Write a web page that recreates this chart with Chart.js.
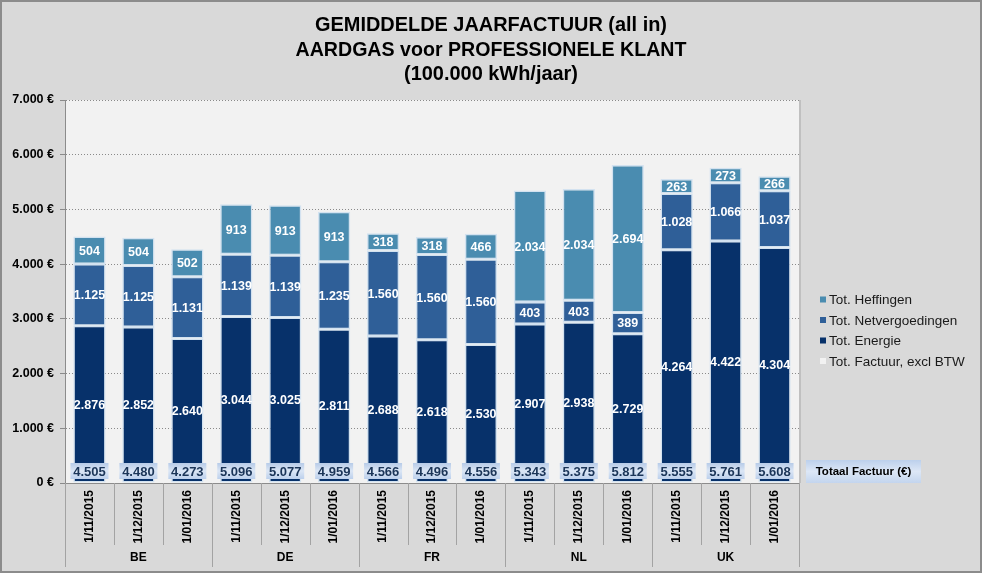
<!DOCTYPE html>
<html><head><meta charset="utf-8">
<script src="https://cdn.jsdelivr.net/npm/chart.js@4.4.1/dist/chart.umd.min.js"></script>
<style>html,body{margin:0;padding:0;background:#d9d9d9;overflow:hidden}#wrap{width:982px;height:573px;}</style>
</head><body><div id="wrap"><canvas id="c" width="982" height="573"></canvas></div>
<script>
const titleLines = ['GEMIDDELDE JAARFACTUUR (all in)', 'AARDGAS voor PROFESSIONELE KLANT', '(100.000 kWh/jaar)'];
const categories = ['1/11/2015','1/12/2015','1/01/2016','1/11/2015','1/12/2015','1/01/2016','1/11/2015','1/12/2015','1/01/2016','1/11/2015','1/12/2015','1/01/2016','1/11/2015','1/12/2015','1/01/2016'];
const countries = ['BE','DE','FR','NL','UK'];
const categoryCountry = ['BE','BE','BE','DE','DE','DE','FR','FR','FR','NL','NL','NL','UK','UK','UK'];
const energie = [2876,2852,2640,3044,3025,2811,2688,2618,2530,2907,2938,2729,4264,4422,4304];
const netvergoedingen = [1125,1125,1131,1139,1139,1235,1560,1560,1560,403,403,389,1028,1066,1037];
const heffingen = [504,504,502,913,913,913,318,318,466,2034,2034,2694,263,273,266];
const totaalFactuur = [4505,4480,4273,5096,5077,4959,4566,4496,4556,5343,5375,5812,5555,5761,5608];
const yTicks = [0,1000,2000,3000,4000,5000,6000,7000];
const seriesNames = ['Tot. Energie','Tot. Netvergoedingen','Tot. Heffingen','Tot. Factuur, excl BTW'];
const totalBoxLabel = 'Totaal Factuur (€)';

const COL_E = '#07316a', COL_N = '#2f5f98', COL_H = '#4a8cb0', COL_T = '#f2f2f2';
const FONT = "'Liberation Sans', Arial, sans-serif";
const fmt = v => String(v).replace(/\B(?=(\d{3})+(?!\d))/g, '.');

const deco = {
  id: 'deco',
  beforeDraw(chart) {
    const ctx = chart.ctx, a = chart.chartArea;
    ctx.save();
    ctx.fillStyle = '#d9d9d9';
    ctx.fillRect(0, 0, chart.width, chart.height);
    ctx.fillStyle = '#f2f2f2';
    ctx.fillRect(a.left, a.top, a.right - a.left, a.bottom - a.top);
    ctx.strokeStyle = '#c0c0c0'; ctx.lineWidth = 2;
    ctx.beginPath(); ctx.moveTo(a.right + 1, a.top); ctx.lineTo(a.right + 1, a.bottom); ctx.stroke();
    ctx.restore();
  },
  afterDatasetsDraw(chart) {
    const ctx = chart.ctx;
    ctx.save();
    ctx.textAlign = 'center'; ctx.textBaseline = 'middle';
    ctx.font = 'bold 12.5px ' + FONT;
    ctx.fillStyle = '#ffffff';
    chart.data.datasets.forEach((ds, di) => {
      const meta = chart.getDatasetMeta(di);
      meta.data.forEach((bar, i) => {
        ctx.fillText(fmt(ds.data[i]), bar.x, (bar.y + bar.base) / 2 + 1);
      });
    });
    // totals boxes
    const y0 = chart.scales.y.getPixelForValue(0);
    const meta0 = chart.getDatasetMeta(0);
    meta0.data.forEach((bar, i) => {
      const bx = bar.x - 19, by = y0 - 20, bw = 38, bh = 16;
      const g = ctx.createLinearGradient(0, by, 0, by + bh);
      g.addColorStop(0, '#b7cbe8'); g.addColorStop(0.5, '#dbe6f5'); g.addColorStop(1, '#bcd0ec');
      ctx.fillStyle = g;
      ctx.fillRect(bx, by, bw, bh);
      ctx.fillStyle = '#1b3558';
      ctx.font = 'bold 13px ' + FONT;
      ctx.fillText(fmt(totaalFactuur[i]), bar.x, by + bh / 2 + 1);
    });
    ctx.restore();
  },
  afterDraw(chart) {
    const ctx = chart.ctx, a = chart.chartArea, xs = chart.scales.x;
    ctx.save();
    // title
    ctx.fillStyle = '#000';
    ctx.textBaseline = 'middle'; ctx.textAlign = 'center';
    ctx.font = 'bold 20px ' + FONT;
    const targets = [352, 391, 174], ys = [25, 50, 74];
    titleLines.forEach((t, k) => {
      const w = ctx.measureText(t).width;
      ctx.save();
      ctx.translate(491, ys[k]);
      ctx.scale(targets[k] / w, 1);
      ctx.fillText(t, 0, 0);
      ctx.restore();
    });
    // x hierarchy separators
    const cw = (a.right - a.left) / categories.length;
    ctx.strokeStyle = '#a3a3a3'; ctx.lineWidth = 1;
    for (let b = 0; b <= categories.length; b++) {
      const x = Math.round(a.left + b * cw) + 0.5;
      const isGroup = b === 0 || b === categories.length || categoryCountry[b] !== categoryCountry[b - 1];
      ctx.beginPath(); ctx.moveTo(x, a.bottom); ctx.lineTo(x, isGroup ? 567 : 545); ctx.stroke();
    }
    ctx.font = 'bold 12px ' + FONT;
    ctx.fillStyle = '#000';
    countries.forEach(c => {
      const idx = categoryCountry.map((v, i) => v === c ? i : -1).filter(i => i >= 0);
      const x = (xs.getPixelForValue(idx[0]) + xs.getPixelForValue(idx[idx.length - 1])) / 2;
      ctx.fillText(c, x, 558);
    });
    // legend
    const leg = [[seriesNames[2], COL_H], [seriesNames[1], COL_N], [seriesNames[0], COL_E], [seriesNames[3], COL_T]];
    ctx.textAlign = 'left';
    ctx.font = '13.5px ' + FONT;
    leg.forEach((l, k) => {
      const y = 299.5 + k * 20.5;
      ctx.fillStyle = l[1];
      ctx.fillRect(820, y - 3, 6, 6);
      ctx.fillStyle = '#1a1a1a';
      ctx.fillText(l[0], 829, y + 1);
    });
    // Totaal Factuur box
    const g = ctx.createLinearGradient(0, 460, 0, 483);
    g.addColorStop(0, '#bcd0ec'); g.addColorStop(0.5, '#dde7f6'); g.addColorStop(1, '#c3d5ee');
    ctx.fillStyle = g;
    ctx.fillRect(806, 460, 115, 23);
    ctx.fillStyle = '#000';
    ctx.textAlign = 'center';
    ctx.font = 'bold 11.5px ' + FONT;
    ctx.fillText(totalBoxLabel, 863.5, 472);
    // outer frame
    ctx.strokeStyle = '#8c8c8c'; ctx.lineWidth = 2;
    ctx.strokeRect(1, 1, chart.width - 2, chart.height - 2);
    ctx.restore();
  }
};

const barCommon = { borderColor: '#d3e2f0', borderWidth: 1.5, borderSkipped: false, barPercentage: 0.66, categoryPercentage: 1 };

new Chart(document.getElementById('c'), {
  type: 'bar',
  data: {
    labels: categories,
    datasets: [
      Object.assign({ label: seriesNames[0], data: energie, backgroundColor: COL_E }, barCommon),
      Object.assign({ label: seriesNames[1], data: netvergoedingen, backgroundColor: COL_N }, barCommon),
      Object.assign({ label: seriesNames[2], data: heffingen, backgroundColor: COL_H }, barCommon)
    ]
  },
  options: {
    responsive: false, animation: false, devicePixelRatio: 1,
    layout: { padding: { top: 100, right: 183, bottom: 0, left: 0 } },
    plugins: { legend: { display: false }, title: { display: false }, tooltip: { enabled: false } },
    scales: {
      x: {
        stacked: true,
        grid: { display: false, drawTicks: false, tickLength: 0 },
        border: { display: true, color: '#8c8c8c', width: 1 },
        ticks: { minRotation: 90, maxRotation: 90, autoSkip: false, padding: 7, color: '#000', font: { family: FONT, size: 12, weight: 'bold' } },
        afterFit(s) { s.height = 90; }
      },
      y: {
        stacked: true, min: 0, max: 7000,
        afterBuildTicks(s) { s.ticks = yTicks.map(v => ({ value: v })); },
        ticks: { callback: v => fmt(v) + ' €', color: '#000', padding: 6, font: { family: FONT, size: 12.5, weight: 'bold' } },
        grid: { color: '#8a8a8a', lineWidth: 1, tickLength: 5, tickColor: '#8a8a8a', tickBorderDash: [] },
        border: { display: true, color: '#8c8c8c', width: 1, dash: [1, 2] },
        afterFit(s) { s.width = 65; }
      }
    }
  },
  plugins: [deco]
});
</script></body></html>
